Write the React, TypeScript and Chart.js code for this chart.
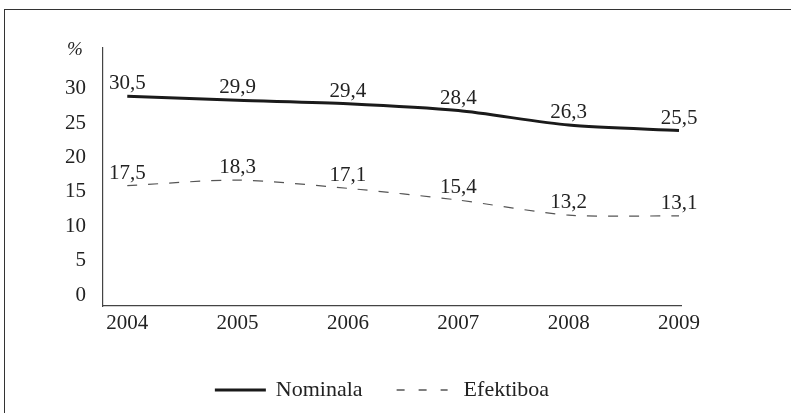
import { useEffect, useRef } from "react";
import { Chart, registerables } from "chart.js";

Chart.register(...registerables);

const categories = ["2004", "2005", "2006", "2007", "2008", "2009"];
const nominala = [30.5, 29.9, 29.4, 28.4, 26.3, 25.5];
const efektiboa = [17.5, 18.3, 17.1, 15.4, 13.2, 13.1];
const yTicks = [0, 5, 10, 15, 20, 25, 30];
const seriesLabels = ["Nominala", "Efektiboa"];
const yUnit = "%";

const FONT = "'Liberation Serif', 'Times New Roman', serif";
const TEXT = "#222222";
const fmt = (v: number) => v.toFixed(1).replace(".", ",");

const dataLabelPlugin = {
  id: "dataLabels",
  afterDatasetsDraw(chart: any) {
    const ctx = chart.ctx;
    ctx.save();
    ctx.font = `21px ${FONT}`;
    ctx.fillStyle = TEXT;
    ctx.textAlign = "center";
    ctx.textBaseline = "alphabetic";
    chart.data.datasets.forEach((ds: any, i: number) => {
      const meta = chart.getDatasetMeta(i);
      meta.data.forEach((el: any, j: number) => {
        const v = ds.data[j].y;
        ctx.fillText(fmt(v), el.x, el.y - 7);
      });
    });
    ctx.restore();
  },
};

const unitPlugin = {
  id: "unitLabel",
  afterDraw(chart: any) {
    const ctx = chart.ctx;
    const { left, top } = chart.chartArea;
    ctx.save();
    ctx.font = `italic 19px ${FONT}`;
    ctx.fillStyle = TEXT;
    ctx.textAlign = "center";
    ctx.textBaseline = "middle";
    ctx.fillText(yUnit, left - 28, top + 2);
    ctx.restore();
  },
};

const legendPlugin = {
  id: "customLegend",
  afterDraw(chart: any) {
    const ctx = chart.ctx;
    const lineLen = 51;
    const itemGap = 34;
    const cy = 390;
    const centerX = 382;
    ctx.save();
    ctx.font = `22px ${FONT}`;
    const items = chart.data.datasets.map((ds: any) => {
      const gap = ds.legendDash ? 16 : 10;
      return { ds, gap, w: lineLen + gap + ctx.measureText(ds.label).width };
    });
    const total =
      items.reduce((s: number, it: any) => s + it.w, 0) + itemGap * (items.length - 1);
    let x = centerX - total / 2;
    items.forEach((it: any) => {
      const ds = it.ds;
      ctx.beginPath();
      ctx.setLineDash(ds.legendDash || []);
      ctx.strokeStyle = ds.borderColor;
      ctx.lineWidth = ds.legendWidth || ds.borderWidth;
      ctx.moveTo(x, cy);
      ctx.lineTo(x + lineLen, cy);
      ctx.stroke();
      ctx.setLineDash([]);
      ctx.fillStyle = TEXT;
      ctx.textAlign = "left";
      ctx.textBaseline = "middle";
      ctx.fillText(ds.label, x + lineLen + it.gap, cy);
      x += it.w + itemGap;
    });
    ctx.restore();
  },
};

export default function App() {
  const ref = useRef<HTMLCanvasElement | null>(null);

  useEffect(() => {
    if (!ref.current) return;
    const chart = new Chart(ref.current, {
      type: "line",
      data: {
        datasets: [
          {
            label: seriesLabels[0],
            data: categories.map((c, i) => ({ x: Number(c), y: nominala[i] })),
            borderColor: "#1a1a1a",
            borderWidth: 3,
            pointRadius: 0,
            tension: 0.25,
            fill: false,
            legendWidth: 2.8,
          } as any,
          {
            label: seriesLabels[1],
            data: categories.map((c, i) => ({ x: Number(c), y: efektiboa[i] })),
            borderColor: "#555555",
            borderWidth: 1.2,
            borderDash: [10, 11],
            legendDash: [8, 14],
            legendWidth: 1.4,
            pointRadius: 0,
            tension: 0.25,
            fill: false,
          } as any,
        ],
      },
      options: {
        responsive: false,
        animation: false,
        layout: { padding: { left: 0, right: 110, top: 48, bottom: 0 } },
        plugins: {
          legend: { display: false },
          tooltip: { enabled: false },
        },
        scales: {
          x: {
            type: "linear",
            min: 2003.78,
            max: 2009.018,
            grid: { display: false, drawTicks: false },
            border: { display: true, color: "#444444", width: 1.2 },
            afterBuildTicks: (axis: any) => {
              axis.ticks = categories.map((c) => ({ value: Number(c) }));
            },
            afterFit: (scale: any) => {
              scale.height = 107;
            },
            ticks: {
              autoSkip: false,
              maxRotation: 0,
              padding: 5,
              color: TEXT,
              font: { family: FONT, size: 21 },
              callback: (v: any) => String(v),
            },
          },
          y: {
            min: 0,
            max: 37.5,
            grid: { display: false, drawTicks: false },
            border: { display: true, color: "#444444", width: 1.2 },
            afterBuildTicks: (axis: any) => {
              axis.ticks = yTicks.map((v) => ({ value: v }));
            },
            afterFit: (scale: any) => {
              scale.width = 103;
            },
            ticks: {
              padding: 17,
              labelOffset: -11,
              color: TEXT,
              font: { family: FONT, size: 21 },
              callback: (v: any) => String(v),
            },
          },
        },
      },
      plugins: [dataLabelPlugin, unitPlugin, legendPlugin],
    });
    return () => chart.destroy();
  }, []);

  return (
    <div
      style={{
        position: "absolute",
        left: 0,
        top: 0,
        width: 791,
        height: 413,
        overflow: "hidden",
        background: "#ffffff",
      }}
    >
      <div
        style={{
          position: "absolute",
          left: 4,
          top: 9,
          width: 900,
          height: 600,
          borderTop: "1.5px solid #333333",
          borderLeft: "1.5px solid #333333",
        }}
      />
      <canvas
        ref={ref}
        width={791}
        height={413}
        style={{ position: "absolute", left: 0, top: 0, width: 791, height: 413 }}
      />
    </div>
  );
}
